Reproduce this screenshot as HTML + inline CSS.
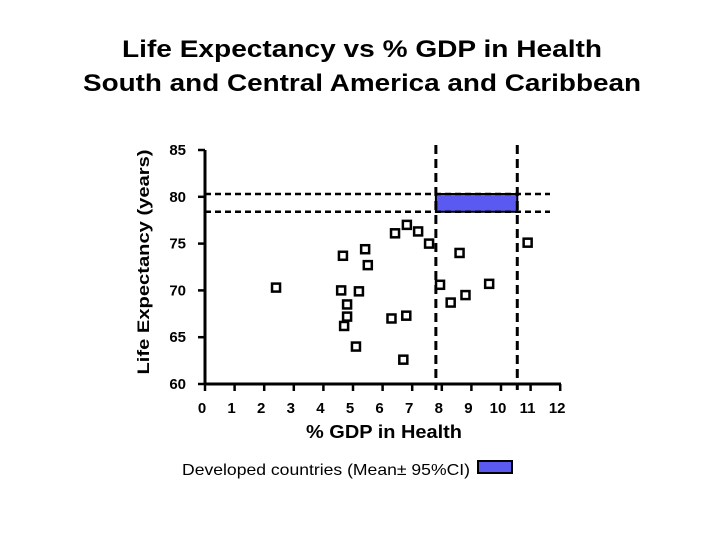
<!DOCTYPE html>
<html><head><meta charset="utf-8"><style>
body{margin:0;background:#fff;}
svg{display:block;font-family:"Liberation Sans",Arial,sans-serif;}
</style></head><body>
<svg id="chart" width="720" height="540" viewBox="0 0 720 540">
<text x="362" y="57" text-anchor="middle" font-size="24" font-weight="bold" textLength="480" lengthAdjust="spacingAndGlyphs">Life Expectancy vs % GDP in Health</text>
<text x="362" y="91" text-anchor="middle" font-size="24" font-weight="bold" textLength="558" lengthAdjust="spacingAndGlyphs">South and Central America and Caribbean</text>
<text transform="translate(149,262) rotate(-90)" text-anchor="middle" font-size="17" font-weight="bold" textLength="225" lengthAdjust="spacingAndGlyphs">Life Expectancy (years)</text>
<text x="384" y="438" text-anchor="middle" font-size="18" font-weight="bold" textLength="156" lengthAdjust="spacingAndGlyphs">% GDP in Health</text>
<g>
<text x="182" y="475" font-size="16" textLength="288" lengthAdjust="spacingAndGlyphs">Developed countries (Mean± 95%CI)</text>
<rect x="478" y="461" width="34" height="12" fill="#5a5af0" stroke="#000" stroke-width="2"/>
</g>
<g id="plot"></g>
</svg>
<script>
const xTicks=[0,1,2,3,4,5,6,7,8,9,10,11,12];
const yTicks=[60,65,70,75,80,85];
const gdp=[2.4,4.66,5.41,5.5,4.6,5.2,4.8,4.8,4.7,5.1,6.42,6.82,7.2,7.57,8.6,7.94,8.3,8.8,9.6,10.9,6.3,6.8,6.7];
const lifeExp=[70.3,73.7,74.4,72.7,70.0,69.9,68.5,67.2,66.2,64.0,76.1,77.0,76.3,75.0,74.0,70.6,68.7,69.5,70.7,75.1,67.0,67.3,62.6];
const ciX=[7.8,10.55];
const ciY=[78.4,80.3];
const NS='http://www.w3.org/2000/svg';
const sx=v=>205+v*29.6;
const sy=v=>384-(v-60)*9.36;
const g=document.getElementById('plot');
function mk(t,a){const e=document.createElementNS(NS,t);for(const k in a)e.setAttribute(k,a[k]);g.appendChild(e);return e;}
let e=mk('rect',{x:sx(ciX[0]),y:sy(ciY[1]),width:sx(ciX[1])-sx(ciX[0]),height:sy(ciY[0])-sy(ciY[1]),fill:'#5a5af0',stroke:'#000','stroke-width':2});


ciY.forEach((v,i)=>{const l=mk('line',{x1:205,x2:550,y1:sy(v),y2:sy(v),stroke:'#000','stroke-width':2.5,'stroke-dasharray':'6,4'});

});
ciX.forEach((v,i)=>{const l=mk('line',{x1:sx(v),x2:sx(v),y1:145,y2:390,stroke:'#000','stroke-width':3,'stroke-dasharray':'9,5'});

});
e=mk('line',{x1:205,x2:205,y1:150,y2:385,stroke:'#000','stroke-width':3});


e=mk('line',{x1:204,x2:561,y1:384,y2:384,stroke:'#000','stroke-width':3});


xTicks.forEach(v=>{mk('line',{x1:sx(v),x2:sx(v),y1:384,y2:391,stroke:'#000','stroke-width':2.5});
const t=mk('text',{x:sx(v)-3,y:413,'text-anchor':'middle','font-size':15,'font-weight':'bold'});t.textContent=v;

});
yTicks.forEach(v=>{mk('line',{x1:198,x2:205,y1:sy(v),y2:sy(v),stroke:'#000','stroke-width':2.5});
const t=mk('text',{x:186,y:sy(v)+5,'text-anchor':'end','font-size':15,'font-weight':'bold'});t.textContent=v;

});
gdp.forEach((v,i)=>{const r=mk('rect',{x:sx(v)-4,y:sy(lifeExp[i])-4,width:8,height:8,fill:'#fff',stroke:'#000','stroke-width':2.5});

});
</script>
</body></html>
